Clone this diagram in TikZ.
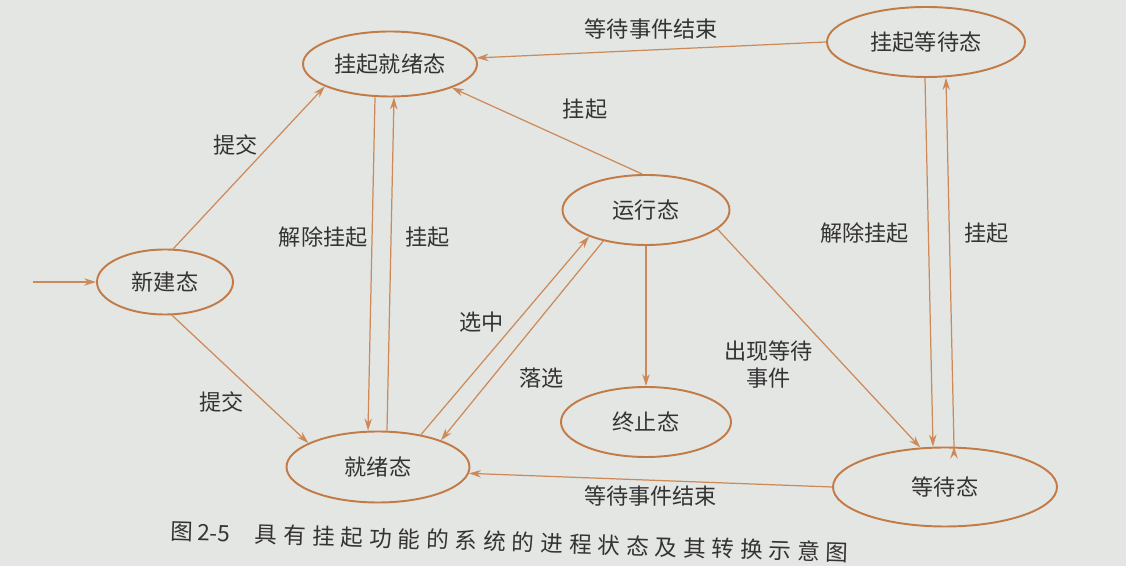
\documentclass[tikz,border=0pt]{standalone}
\usepackage{fontspec}
\setmainfont{Noto Sans CJK SC}
\newfontfamily\capfont[LetterSpace=27]{Noto Sans CJK SC}
\usetikzlibrary{positioning, shapes.geometric, arrows.meta}
\definecolor{paper}{HTML}{E4E6E3}
\definecolor{rust}{HTML}{C27B47}
\definecolor{rustline}{HTML}{CC8A5A}
\definecolor{ink}{HTML}{333333}

\begin{document}
\begin{tikzpicture}[node distance = 2cm, on grid, >={Stealth[length=2.4mm, width=1.5mm]},
	proc/.style={ellipse, draw=rust, line width=1.1pt, inner sep=0pt, text=ink, font=\fontsize{12.6}{14}\selectfont},
	lbl/.style={inner sep=0pt, text=ink, font=\fontsize{12.6}{15}\selectfont}]
			\fill[paper] (-7.56,-1.98) rectangle (14.96,9.34);
			\useasboundingbox (-7.56,-1.98) rectangle (14.96,9.34);

			\node[proc, minimum width=3.66cm, minimum height=1.42cm] (ready) at (0,0) {就绪态};
			\node[proc, minimum width=2.72cm, minimum height=1.3cm, above left=3.7cm and 4.26cm of ready] (new) {新建态};
			\node[proc, minimum width=3.48cm, minimum height=1.3cm, above right=8.06cm and 0.24cm of ready] (sready) {挂起就绪态};
			\node[proc, minimum width=3.34cm, minimum height=1.4cm, above right=5.14cm and 5.36cm of ready] (run) {运行态};
			\node[proc, minimum width=3.4cm, minimum height=1.4cm, below=4.24cm of run] (stop) {终止态};
			\node[proc, minimum width=4.48cm, minimum height=1.58cm, below right=0.4cm and 11.34cm of ready] (wait) {等待态};
			\node[proc, minimum width=3.96cm, minimum height=1.4cm, above left=8.9cm and 0.38cm of wait] (swait) {挂起等待态};
			\coordinate[left=2.64cm of new] (start);

			\draw[->, rustline, line width=0.7pt] (start) edge (new)
			(new.76) edge node[lbl, pos=.64, left=0.23cm] {提交} (sready.199)
			(new.-78) edge node[lbl, pos=.68, left=0.41cm] {提交} (ready.161)
			([xshift=-0.3cm]sready.south) edge node[lbl, pos=.42, left=0.08cm] {解除挂起} ([xshift=-0.2cm]ready.north)
			([xshift=0.18cm]ready.north) edge node[lbl, pos=.58, right=0.27cm] {挂起} ([xshift=0.08cm]sready.south)
			(run.96) edge node[lbl, pos=.3, above=0.56cm] {挂起} (sready.-21)
			(ready.37) edge node[lbl, pos=.57, left=0.25cm] {选中} (run.205)
			(run.216) edge node[lbl, pos=.69, right=0.55cm] {落选} (ready.23)
			(run) edge (stop)
			(run.-15) edge node[lbl, pos=.62, left=0.6cm, align=center] {出现等待\\事件} (wait.122)
			(swait.west) edge node[lbl, above=0.2cm] {等待事件结束} (sready.4)
			(wait.west) edge node[lbl, below=0.1cm] {等待事件结束} (ready.-4)
			([xshift=-0.02cm]swait.south) edge node[lbl, pos=.42, left=0.38cm] {解除挂起} ([xshift=-0.24cm]wait.north)
			([xshift=0.18cm]wait.north) edge node[lbl, pos=.58, right=0.29cm] {挂起} ([xshift=0.4cm]swait.south);

			\node[text=ink, inner sep=0pt, rotate=-1.8, below right=1.5cm and 2.64cm of ready] (caption)
			{\fontsize{12.8}{15}\selectfont 图\,2-5\hspace{0.5cm}{\capfont 具有挂起功能的系统的进程状态及其转换示意图}};
		\end{tikzpicture}
\end{document}
